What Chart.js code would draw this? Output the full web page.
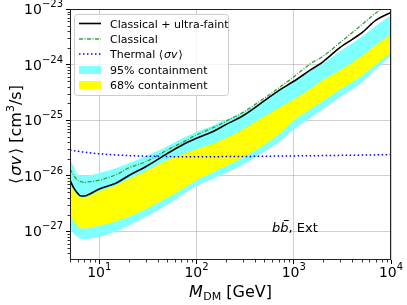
<!DOCTYPE html>
<html>
<head>
<meta charset="utf-8">
<script src="https://cdn.jsdelivr.net/npm/chart.js@4.4.1/dist/chart.umd.min.js"></script>
<style>
  html, body { margin: 0; padding: 0; background: #fff; }
  #wrap { width: 407px; height: 305px; }
</style>
</head>
<body>
<div id="wrap"><canvas id="chart" width="407" height="305"></canvas></div>
<script>
// values (GeV, cm^3/s)
const massGeV = [5, 5.5, 6, 6.5, 7, 8, 10, 15, 20, 30, 50, 70, 100, 150, 200, 300, 500, 700, 1000, 1500, 2000, 3000, 5000, 7000, 10000];

const limitCombined = [8.3e-27, 5.9e-27, 4.8e-27, 4.3e-27, 4.3e-27, 4.7e-27, 5.75e-27, 7.4e-27, 1.0e-26, 1.45e-26, 2.5e-26, 3.5e-26, 4.7e-26, 6.3e-26, 8.3e-26, 1.2e-25, 2.24e-25, 3.4e-25, 5.0e-25, 8.1e-25, 1.12e-24, 2.04e-24, 3.7e-24, 6.3e-24, 8.7e-24];
const limitClassical = [1.32e-26, 1.0e-26, 8.3e-27, 7.8e-27, 7.6e-27, 7.8e-27, 8.3e-27, 1.05e-26, 1.38e-26, 1.78e-26, 2.9e-26, 3.9e-26, 5.4e-26, 7.4e-26, 9.5e-26, 1.38e-25, 2.5e-25, 3.8e-25, 6.0e-25, 1.05e-24, 1.41e-24, 2.5e-24, 5.2e-24, 8.5e-24, 1.35e-23];
const thermalXsec = [2.9e-26, 2.82e-26, 2.75e-26, 2.7e-26, 2.66e-26, 2.58e-26, 2.48e-26, 2.36e-26, 2.3e-26, 2.25e-26, 2.21e-26, 2.2e-26, 2.2e-26, 2.2e-26, 2.21e-26, 2.22e-26, 2.24e-26, 2.26e-26, 2.27e-26, 2.29e-26, 2.3e-26, 2.32e-26, 2.35e-26, 2.37e-26, 2.4e-26];

const band95Upper = [2.0e-26, 1.41e-26, 1.07e-26, 1.0e-26, 1.0e-26, 1.02e-26, 1.12e-26, 1.38e-26, 1.66e-26, 2.24e-26, 3.4e-26, 4.6e-26, 6.2e-26, 8.1e-26, 1.02e-25, 1.35e-25, 2.34e-25, 3.55e-25, 4.8e-25, 7.8e-25, 1.05e-24, 1.74e-24, 3.16e-24, 5.0e-24, 7.6e-24];
const band95Lower = [1.17e-27, 8.9e-28, 7.9e-28, 7.4e-28, 7.2e-28, 7.4e-28, 7.9e-28, 1.0e-27, 1.26e-27, 1.82e-27, 3.0e-27, 4.4e-27, 6.6e-27, 8.9e-27, 1.12e-26, 1.58e-26, 2.75e-26, 4.0e-26, 6.8e-26, 1.12e-25, 1.58e-25, 2.6e-25, 4.7e-25, 8.3e-25, 1.41e-24];
const band68Upper = [7.4e-27, 5.25e-27, 4.47e-27, 4.07e-27, 4.07e-27, 4.37e-27, 5.25e-27, 6.76e-27, 8.7e-27, 1.2e-26, 1.9e-26, 2.4e-26, 3.0e-26, 3.8e-26, 4.7e-26, 6.8e-26, 1.17e-25, 1.66e-25, 2.34e-25, 3.7e-25, 5.25e-25, 7.9e-25, 1.41e-24, 2.24e-24, 3.47e-24];
const band68Lower = [2.0e-27, 1.48e-27, 1.26e-27, 1.12e-27, 1.12e-27, 1.17e-27, 1.26e-27, 1.51e-27, 1.82e-27, 2.5e-27, 4.0e-27, 5.6e-27, 8.3e-27, 1.17e-26, 1.48e-26, 2.1e-26, 3.6e-26, 5.5e-26, 1.0e-25, 1.58e-25, 2.2e-25, 3.55e-25, 6.3e-25, 1.0e-24, 1.62e-24];

const xTickValues = [10, 100, 1000, 10000];
const xTickExponents = ['1', '2', '3', '4'];
const yTickValues = [1e-27, 1e-26, 1e-25, 1e-24, 1e-23];
const yTickExponents = ['\u221227', '\u221226', '\u221225', '\u221224', '\u221223'];

const FONT = '"DejaVu Sans", sans-serif';
const GRID = 'rgba(176,176,176,0.6)';

function pts(arr) {
    return massGeV.map((m, i) => ({ x: m, y: arr[i] }));
}

// draws "10^n" with a small raised exponent, y = middle of the digits
function drawPow(ctx, x, y, exp, align) {
    ctx.font = '14px ' + FONT;
    const bw = ctx.measureText('10').width;
    ctx.font = '10px ' + FONT;
    const ew = ctx.measureText(exp).width;
    const total = bw + ew;
    const left = align === 'right' ? x - total : x - total / 2;
    ctx.textAlign = 'left';
    ctx.textBaseline = 'alphabetic';
    ctx.font = '14px ' + FONT;
    ctx.fillText('10', left, y + 5);
    ctx.font = '10px ' + FONT;
    ctx.fillText(exp, left + bw, y - 2);
}

// pieces: [text, font, dy, extraGapAfter]
function drawPieces(ctx, pieces, x, y, align) {
    let total = 0;
    pieces.forEach(p => { ctx.font = p[1]; total += ctx.measureText(p[0]).width + (p[3] || 0); });
    let cx = align === 'center' ? x - total / 2 : x;
    ctx.textAlign = 'left';
    ctx.textBaseline = 'alphabetic';
    pieces.forEach(p => {
        ctx.font = p[1];
        ctx.fillText(p[0], cx, y + (p[2] || 0));
        cx += ctx.measureText(p[0]).width + (p[3] || 0);
    });
    return total;
}

const decorPlugin = {
    id: 'decor',
    afterDraw(chart) {
        const ctx = chart.ctx;
        const a = chart.chartArea;
        const xs = chart.scales.x, ys = chart.scales.y;
        ctx.save();

        // frame
        ctx.strokeStyle = '#222';
        ctx.lineWidth = 1;
        ctx.strokeRect(a.left + 0.5, a.top + 0.5, a.right - a.left - 1, a.bottom - a.top - 1);

        // minor ticks
        ctx.beginPath();
        for (let d = 0; d <= 4; d++) {
            for (let k = 2; k <= 9; k++) {
                const v = k * Math.pow(10, d);
                if (v < 5 || v > 10000) continue;
                const px = Math.round(xs.getPixelForValue(v)) + 0.5;
                ctx.moveTo(px, a.bottom);
                ctx.lineTo(px, a.bottom + 2.5);
            }
        }
        for (let d = -28; d <= -24; d++) {
            for (let k = 2; k <= 9; k++) {
                const v = k * Math.pow(10, d);
                if (v < ys.min || v > ys.max) continue;
                const py = Math.round(ys.getPixelForValue(v)) + 0.5;
                ctx.moveTo(a.left, py);
                ctx.lineTo(a.left - 2.5, py);
            }
        }
        ctx.strokeStyle = '#000';
        ctx.lineWidth = 0.8;
        ctx.stroke();

        // tick labels
        ctx.fillStyle = '#000';
        xTickValues.forEach((v, i) => drawPow(ctx, xs.getPixelForValue(v), 272, xTickExponents[i], 'center'));
        yTickValues.forEach((v, i) => drawPow(ctx, a.left - 7, ys.getPixelForValue(v), yTickExponents[i], 'right'));

        // x title
        drawPieces(ctx, [
            ['M', 'italic 16px ' + FONT, 0, 0.5],
            ['DM', '11px ' + FONT, 3],
            [' [GeV]', '16px ' + FONT]
        ], (a.left + a.right) / 2, 297, 'center');

        // y title
        ctx.save();
        ctx.translate(21, (a.top + a.bottom) / 2);
        ctx.rotate(-Math.PI / 2);
        drawPieces(ctx, [
            ['\u27e8', '16px ' + FONT, 0, 2],
            ['\u03c3v', 'italic 16px ' + FONT, 0, 2],
            ['\u27e9', '16px ' + FONT, 0, 0],
            [' [cm', '16px ' + FONT],
            ['3', '11px ' + FONT, -7],
            ['/s]', '16px ' + FONT]
        ], 0, 0, 'center');
        ctx.restore();

        // channel annotation
        const bx = 272, by = 232;
        ctx.font = 'italic 13px ' + FONT;
        const bw = ctx.measureText('b').width;
        ctx.textAlign = 'left';
        ctx.fillText('b', bx, by);
        ctx.fillText('b', bx + bw, by);
        ctx.fillRect(bx + bw + 3.5, by - 12, 5, 1);
        ctx.font = '13px ' + FONT;
        ctx.fillText(', Ext', bx + 2 * bw, by);

        // legend
        const lx = 74, ly = 14, lw = 154, lh = 81;
        ctx.beginPath();
        ctx.roundRect(lx + 0.5, ly + 0.5, lw, lh, 3);
        ctx.fillStyle = 'rgba(255,255,255,0.8)';
        ctx.fill();
        ctx.strokeStyle = '#cccccc';
        ctx.lineWidth = 1;
        ctx.stroke();

        const rows = [23.5, 39, 54, 70, 85];
        const hx0 = 79, hx1 = 101, tx = 110;
        const line = (y, color, width, dash) => {
            ctx.beginPath();
            ctx.setLineDash(dash);
            ctx.strokeStyle = color;
            ctx.lineWidth = width;
            ctx.moveTo(hx0, y);
            ctx.lineTo(hx1, y);
            ctx.stroke();
            ctx.setLineDash([]);
        };
        line(rows[0], '#000', 1.6, []);
        line(rows[1], '#3a9e3a', 1.3, [4, 1.5, 1, 1.5]);
        line(rows[2], '#0000ff', 1.5, [1.5, 2.5]);
        ctx.fillStyle = '#80ffff';
        ctx.fillRect(hx0, rows[3] - 4, hx1 - hx0, 8);
        ctx.fillStyle = '#ffff00';
        ctx.fillRect(hx0, rows[4] - 4, hx1 - hx0, 8);

        ctx.fillStyle = '#000';
        const f = '11px ' + FONT;
        drawPieces(ctx, [['Classical + ultra-faint', f]], tx, rows[0] + 4, 'left');
        drawPieces(ctx, [['Classical', f]], tx, rows[1] + 4, 'left');
        drawPieces(ctx, [['Thermal ', f], ['\u27e8', f, 0, 1], ['\u03c3v', 'italic ' + f, 0, 1], ['\u27e9', f]], tx, rows[2] + 4, 'left');
        drawPieces(ctx, [['95% containment', f]], tx, rows[3] + 4, 'left');
        drawPieces(ctx, [['68% containment', f]], tx, rows[4] + 4, 'left');

        ctx.restore();
    }
};

const noLine = 'rgba(0,0,0,0)';

new Chart(document.getElementById('chart'), {
    type: 'line',
    data: {
        datasets: [
            { label: '95% upper', data: pts(band95Upper), borderColor: noLine, borderWidth: 0, backgroundColor: '#80ffff', fill: '+1', order: 3 },
            { label: '95% lower', data: pts(band95Lower), borderColor: noLine, borderWidth: 0, fill: false, order: 3 },
            { label: '68% upper', data: pts(band68Upper), borderColor: noLine, borderWidth: 0, backgroundColor: '#ffff00', fill: '+1', order: 2 },
            { label: '68% lower', data: pts(band68Lower), borderColor: noLine, borderWidth: 0, fill: false, order: 2 },
            { label: 'Thermal', data: pts(thermalXsec), borderColor: '#0000ff', borderWidth: 1.5, borderDash: [1.5, 2.5], fill: false, order: 1 },
            { label: 'Classical', data: pts(limitClassical), borderColor: '#3a9e3a', borderWidth: 1.3, borderDash: [4, 1.5, 1, 1.5], fill: false, order: 1 },
            { label: 'Classical + ultra-faint', data: pts(limitCombined), borderColor: '#000', borderWidth: 1.6, fill: false, order: 0 }
        ]
    },
    options: {
        responsive: false,
        animation: false,
        devicePixelRatio: 1,
        layout: { padding: { top: 9, right: 16, bottom: 0, left: 0 } },
        elements: {
            point: { radius: 0 },
            line: { cubicInterpolationMode: 'monotone' }
        },
        plugins: {
            legend: { display: false },
            tooltip: { enabled: false }
        },
        scales: {
            x: {
                type: 'logarithmic',
                min: 5,
                max: 10000,
                z: 1,
                afterBuildTicks: s => { s.ticks = xTickValues.map(v => ({ value: v })); },
                afterFit: s => { s.height = 45; },
                ticks: { display: false },
                border: { display: false },
                grid: { color: GRID, lineWidth: 1, tickLength: 4, tickColor: '#000', drawTicks: true }
            },
            y: {
                type: 'logarithmic',
                min: 3.04e-28,
                max: 1e-23,
                z: 1,
                afterBuildTicks: s => { s.ticks = yTickValues.map(v => ({ value: v })); },
                afterFit: s => { s.width = 70; },
                ticks: { display: false },
                border: { display: false },
                grid: { color: GRID, lineWidth: 1, tickLength: 4, tickColor: '#000', drawTicks: true }
            }
        }
    },
    plugins: [decorPlugin]
});
</script>
</body>
</html>
